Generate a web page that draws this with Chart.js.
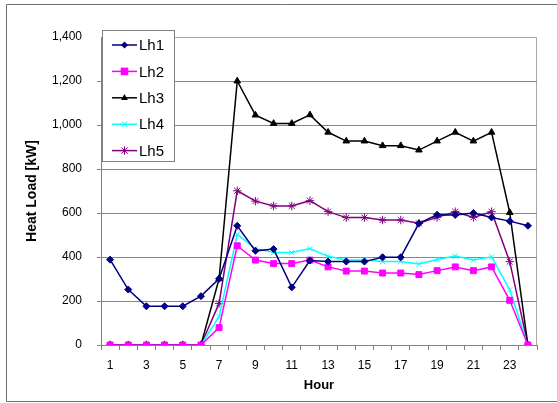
<!DOCTYPE html>
<html>
<head>
<meta charset="utf-8">
<script src="https://cdn.jsdelivr.net/npm/chart.js@4.4.1/dist/chart.umd.min.js"></script>
<style>
html,body{margin:0;padding:0;background:#fff;}
#wrap{position:relative;width:557px;height:403px;}
</style>
</head>
<body>
<div id="wrap"><canvas id="c" width="557" height="403"></canvas></div>
<script>
const hours = ["1","2","3","4","5","6","7","8","9","10","11","12","13","14","15","16","17","18","19","20","21","22","23","24"];
const lh1 = [388,252,176,176,176,222,301,542,428,436,262,384,379,379,379,399,399,553,592,591,600,580,563,542];
const lh2 = [0,0,0,0,0,0,79,451,386,370,370,386,355,336,336,327,327,320,338,355,338,355,203,0];
const lh3 = [0,0,0,0,0,0,301,1200,1045,1007,1007,1046,967,927,927,906,906,886,927,967,927,967,602,0];
const lh4 = [0,0,0,0,0,0,129,503,438,420,420,438,403,386,386,379,379,368,389,404,386,401,250,0];
const lh5 = [0,0,0,0,0,0,189,701,654,632,632,656,606,579,579,568,568,553,580,606,580,606,379,0];
const yTicks = [0,200,400,600,800,1000,1200,1400];

const FONT = "'Liberation Sans', Arial, sans-serif";

const seriesDefs = [
  {label:'Lh1', data:lh1, color:'#000080', style:'rectRot', r:3.5},
  {label:'Lh2', data:lh2, color:'#FF00FF', style:'rect', r:4.2},
  {label:'Lh3', data:lh3, color:'#000000', style:'triangle', r:3.8},
  {label:'Lh4', data:lh4, color:'#00FFFF', style:'crossRot', r:3.8},
  {label:'Lh5', data:lh5, color:'#800080', style:'star', r:4.2}
];

const datasets = seriesDefs.map(s => ({
  label: s.label, data: s.data,
  borderColor: s.color, backgroundColor: s.color,
  pointBorderColor: s.color, pointBackgroundColor: s.color,
  pointStyle: s.style, pointRadius: s.r, pointBorderWidth: 1,
  borderWidth: 1.5, tension: 0, fill: false
}));

function drawMarker(ctx, style, x, y, r, color) {
  ctx.save();
  ctx.fillStyle = color; ctx.strokeStyle = color; ctx.lineWidth = 1;
  ctx.beginPath();
  if (style === 'rectRot') {
    ctx.moveTo(x, y - r); ctx.lineTo(x + r, y); ctx.lineTo(x, y + r); ctx.lineTo(x - r, y); ctx.closePath(); ctx.fill();
  } else if (style === 'rect') {
    const s = r * 0.9;
    ctx.rect(x - s, y - s, 2 * s, 2 * s); ctx.fill();
  } else if (style === 'triangle') {
    ctx.moveTo(x, y - r); ctx.lineTo(x + r * 0.9, y + r * 0.6); ctx.lineTo(x - r * 0.9, y + r * 0.6); ctx.closePath(); ctx.fill();
  } else if (style === 'crossRot') {
    const d = r * 0.75;
    ctx.moveTo(x - d, y - d); ctx.lineTo(x + d, y + d); ctx.moveTo(x + d, y - d); ctx.lineTo(x - d, y + d); ctx.stroke();
  } else if (style === 'star') {
    const d = r * 0.75;
    ctx.moveTo(x - d, y - d); ctx.lineTo(x + d, y + d); ctx.moveTo(x + d, y - d); ctx.lineTo(x - d, y + d);
    ctx.moveTo(x, y - r); ctx.lineTo(x, y + r); ctx.stroke();
  }
  ctx.restore();
}

const framePlugin = {
  id: 'frame',
  beforeDraw(chart) {
    const ctx = chart.ctx;
    ctx.save();
    ctx.fillStyle = '#fff';
    ctx.fillRect(0, 0, chart.width, chart.height);
    ctx.strokeStyle = '#707070'; ctx.lineWidth = 1;
    ctx.beginPath();
    ctx.moveTo(566, 4.5); ctx.lineTo(6.5, 4.5); ctx.lineTo(6.5, 401.5); ctx.lineTo(566, 401.5);
    ctx.stroke();
    const a = chart.chartArea;
    ctx.strokeStyle = '#a8a8a8';
    ctx.beginPath();
    ctx.moveTo(a.left, Math.round(a.top) + 0.5); ctx.lineTo(Math.round(a.right) - 0.5, Math.round(a.top) + 0.5);
    ctx.lineTo(Math.round(a.right) - 0.5, a.bottom);
    ctx.stroke();
    ctx.restore();
  },
  afterDraw(chart) {
    const ctx = chart.ctx;
    const bx = 102.5, by = 30.5, bw = 72, bh = 131;
    ctx.save();
    ctx.fillStyle = '#fff';
    ctx.fillRect(bx, by, bw, bh);
    ctx.strokeStyle = '#808080'; ctx.lineWidth = 1;
    ctx.strokeRect(bx, by, bw, bh);
    ctx.font = '15px ' + FONT;
    ctx.textBaseline = 'middle';
    ctx.fillStyle = '#000';
    seriesDefs.forEach((s, i) => {
      const y = 45 + i * 26.4;
      ctx.strokeStyle = s.color; ctx.lineWidth = 1.5;
      ctx.beginPath(); ctx.moveTo(112, y); ctx.lineTo(137, y); ctx.stroke();
      drawMarker(ctx, s.style, 124.5, y, s.r, s.color);
      ctx.fillStyle = '#000';
      ctx.fillText(s.label, 139, y + 1);
    });
    ctx.restore();
  }
};

new Chart(document.getElementById('c'), {
  type: 'line',
  data: { labels: hours, datasets },
  plugins: [framePlugin],
  options: {
    responsive: false,
    animation: false,
    devicePixelRatio: 1,
    layout: { padding: { left: 0, top: 37, right: 20, bottom: 0 } },
    plugins: { legend: { display: false }, tooltip: { enabled: false } },
    elements: { line: { borderJoinStyle: 'miter' } },
    scales: {
      x: {
        type: 'category',
        offset: true,
        grid: { offset: true, drawOnChartArea: false, drawTicks: true, tickLength: 5, color: '#808080' },
        border: { color: '#808080', width: 1 },
        ticks: {
          autoSkip: false, maxRotation: 0, padding: 8, color: '#000',
          font: { family: FONT, size: 12 },
          callback: function(v, i) { return i % 2 === 0 ? hours[i] : ''; }
        },
        title: { display: true, text: 'Hour', color: '#000', font: { family: FONT, size: 13, weight: 'bold' }, padding: { top: 10, bottom: 10 } },
        afterFit: s => { s.height = 58; }
      },
      y: {
        min: 0, max: 1400,
        afterBuildTicks: s => { s.ticks = yTicks.map(v => ({ value: v })); },
        grid: { color: (c) => c.tick && c.tick.value === 1400 ? 'rgba(0,0,0,0)' : '#888888', tickLength: 4, drawTicks: true },
        border: { color: '#808080', width: 1 },
        ticks: {
          padding: 15, color: '#000',
          font: { family: FONT, size: 12 },
          callback: v => v.toLocaleString('en-US')
        },
        title: { display: true, text: 'Heat Load [kW]', color: '#000', font: { family: FONT, size: 14, weight: 'bold' }, padding: { top: 24, bottom: 24 } },
        afterFit: s => { s.width = 101; }
      }
    }
  }
});
</script>
</body>
</html>
